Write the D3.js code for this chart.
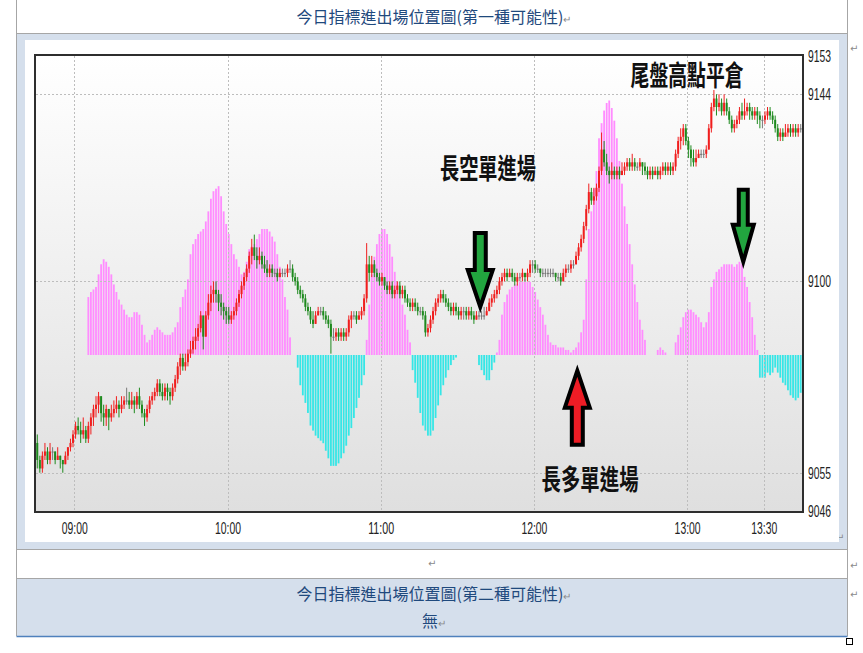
<!DOCTYPE html>
<html><head><meta charset="utf-8">
<script src="https://cdn.jsdelivr.net/npm/d3@7"></script>
<style>body{margin:0;background:#fff;}svg{display:block}</style>
</head><body>
<svg id="c" width="863" height="653"></svg>
<script>
// ---------------- DATA ----------------
const sessionStart = "08:45";
const sessionEnd = "13:45";
const firstOpen = 9062;
const close = [
9058,9056,9059,9060,9058,9060,9060,9058,9059,9058,
9057,9059,9061,9062,9064,9066,9065,9064,9065,9063,
9066,9068,9070,9071,9073,9069,9068,9070,9068,9069,
9070,9071,9070,9071,9072,9072,9071,9072,9071,9073,
9071,9069,9068,9070,9072,9073,9074,9076,9074,9073,
9075,9074,9073,9075,9077,9080,9082,9080,9081,9083,
9084,9086,9087,9089,9092,9087,9092,9095,9097,9098,
9097,9095,9094,9093,9092,9091,9092,9093,9095,9097,
9099,9101,9103,9106,9108,9106,9105,9106,9104,9103,
9102,9103,9102,9102,9101,9102,9102,9102,9103,9103,
9101,9100,9098,9097,9096,9094,9093,9091,9090,9092,
9093,9093,9092,9091,9090,9087,9087,9088,9087,9088,
9087,9088,9091,9092,9092,9091,9092,9093,9096,9104,
9102,9104,9102,9101,9100,9101,9099,9098,9099,9097,
9098,9099,9097,9098,9096,9095,9094,9095,9094,9093,
9093,9092,9088,9089,9091,9093,9095,9096,9097,9096,
9095,9094,9093,9094,9093,9092,9093,9093,9092,9093,
9092,9091,9092,9092,9092,9092,9093,9095,9096,9097,
9098,9100,9101,9102,9101,9102,9101,9100,9101,9101,
9102,9101,9102,9104,9104,9103,9103,9102,9102,9102,
9102,9102,9102,9101,9101,9100,9102,9103,9103,9104,
9104,9106,9108,9110,9113,9117,9121,9119,9120,9122,
9126,9131,9128,9126,9125,9126,9125,9126,9125,9126,
9127,9128,9127,9128,9127,9127,9128,9127,9126,9125,
9126,9125,9126,9125,9126,9127,9126,9127,9126,9127,
9130,9133,9134,9136,9133,9131,9129,9128,9129,9130,
9130,9130,9131,9136,9141,9143,9141,9142,9140,9142,
9140,9138,9136,9137,9138,9140,9139,9140,9141,9140,
9139,9140,9139,9138,9138,9139,9140,9139,9138,9136,
9134,9135,9134,9135,9136,9135,9136,9135,9136,9136];
const high = [
9064,9059,9060,9062,9061,9062,9061,9060,9061,9059,
9058,9060,9061,9063,9065,9067,9068,9067,9068,9066,
9067,9069,9071,9073,9074,9073,9071,9071,9070,9071,
9072,9073,9072,9073,9073,9075,9074,9074,9073,9074,
9075,9072,9070,9071,9073,9074,9075,9077,9077,9076,
9076,9076,9075,9076,9078,9081,9083,9083,9083,9084,
9086,9087,9089,9090,9093,9091,9093,9097,9099,9100,
9100,9098,9097,9095,9094,9094,9093,9094,9096,9098,
9100,9102,9104,9107,9110,9111,9108,9108,9107,9106,
9105,9104,9104,9103,9103,9103,9103,9103,9104,9105,
9104,9102,9101,9099,9098,9097,9095,9094,9093,9093,
9094,9094,9094,9093,9092,9091,9089,9089,9089,9089,
9089,9089,9092,9093,9093,9093,9093,9094,9097,9109,
9106,9106,9105,9103,9102,9102,9101,9100,9100,9100,
9099,9100,9100,9099,9099,9097,9096,9096,9096,9095,
9094,9094,9093,9090,9092,9094,9096,9097,9098,9098,
9097,9096,9095,9095,9095,9094,9094,9094,9094,9094,
9094,9093,9093,9093,9093,9094,9094,9096,9097,9098,
9099,9101,9102,9103,9103,9103,9103,9102,9102,9102,
9103,9102,9103,9105,9105,9105,9104,9103,9103,9103,
9103,9103,9103,9102,9102,9102,9103,9104,9104,9105,
9105,9107,9109,9111,9114,9118,9123,9122,9122,9123,
9127,9135,9133,9130,9127,9128,9127,9127,9127,9128,
9128,9129,9129,9130,9129,9128,9129,9128,9128,9127,
9127,9127,9127,9127,9127,9128,9128,9128,9128,9128,
9131,9134,9136,9137,9137,9134,9132,9131,9131,9131,
9131,9131,9132,9137,9142,9145,9144,9144,9143,9144,
9143,9141,9139,9138,9139,9141,9142,9143,9142,9142,
9141,9141,9141,9140,9139,9140,9141,9141,9140,9139,
9137,9136,9136,9137,9137,9137,9137,9137,9137,9137];
const low = [
9056,9055,9055,9058,9057,9057,9058,9057,9058,9056,
9055,9057,9058,9060,9061,9063,9064,9062,9063,9062,
9062,9064,9066,9068,9069,9067,9066,9066,9065,9067,
9068,9069,9068,9069,9070,9071,9070,9070,9069,9070,
9070,9068,9066,9067,9069,9071,9072,9073,9073,9072,
9072,9072,9071,9072,9074,9076,9078,9079,9079,9080,
9082,9083,9084,9086,9088,9084,9087,9091,9093,9095,
9095,9093,9092,9091,9090,9090,9090,9091,9092,9094,
9096,9098,9100,9102,9104,9105,9103,9104,9103,9102,
9101,9101,9101,9101,9100,9101,9101,9101,9101,9102,
9100,9099,9097,9096,9095,9093,9092,9090,9089,9090,
9092,9092,9091,9090,9089,9083,9086,9086,9086,9086,
9086,9086,9087,9089,9091,9090,9091,9091,9092,9095,
9100,9101,9101,9100,9099,9099,9098,9097,9097,9096,
9096,9097,9096,9096,9095,9094,9093,9093,9093,9092,
9092,9091,9087,9087,9088,9090,9092,9094,9095,9095,
9094,9093,9092,9092,9092,9091,9091,9091,9091,9091,
9091,9090,9091,9091,9091,9091,9092,9093,9094,9095,
9096,9097,9099,9100,9100,9101,9100,9099,9099,9100,
9100,9100,9100,9101,9102,9102,9102,9101,9101,9101,
9101,9101,9101,9100,9100,9099,9100,9101,9102,9102,
9103,9104,9105,9107,9109,9112,9116,9118,9118,9119,
9121,9125,9127,9125,9123,9124,9124,9124,9124,9125,
9125,9126,9126,9126,9126,9126,9126,9125,9125,9124,
9124,9124,9125,9124,9124,9125,9125,9125,9125,9125,
9126,9129,9131,9132,9132,9129,9127,9127,9127,9129,
9129,9129,9129,9131,9135,9140,9139,9140,9139,9139,
9139,9137,9135,9135,9136,9137,9138,9138,9139,9138,
9138,9138,9137,9136,9136,9137,9138,9138,9137,9135,
9133,9133,9133,9134,9134,9134,9134,9134,9134,9135];
const histogram = [
null,null,null,null,null,null,null,null,null,null,
null,null,null,null,null,null,null,null,null,null,
23,25,26,27,32,36,38,37,35,32,
28,25,22,20,18,16,15,15,17,17,
16,12,8,5,6,8,10,11,10,9,
8,8,8,9,11,13,19,23,26,30,
40,44,46,48,49,50,53,57,62,65,
66,67,63,57,52,48,44,40,38,35,
32,33,37,42,43,44,46,48,50,50,
50,49,47,45,40,35,30,23,18,7,
0,0,-5,-12,-16,-19,-23,-28,-30,-32,
-33,-34,-35,-38,-41,-44,-44,-44,-43,-41,
-39,-36,-32,-29,-25,-21,-17,-12,-8,6,
20,32,39,44,48,50,50,48,44,39,
33,29,25,20,16,10,5,-6,-11,-17,
-23,-28,-30,-32,-32,-30,-25,-20,-16,-12,
-9,-6,-4,-2,-1,0,0,0,0,0,
0,0,0,-4,-6,-8,-10,-10,-6,-3,
1,6,16,21,24,26,27,28,28,29,
29,30,29,29,27,25,22,19,16,12,
8,5,4,4,3,3,3,2,2,1,
2,3,5,9,14,30,50,57,66,73,
86,92,97,100,101,98,93,86,77,68,
59,52,44,36,28,21,14,10,6,0,
0,0,0,2,3,2,1,0,0,0,
5,8,11,15,17,18,18,17,16,15,
13,11,13,17,27,30,33,34,35,36,
36,36,36,35,36,37,36,31,27,21,
15,8,2,-9,-9,-9,-7,-8,-7,-5,
-7,-9,-11,-12,-14,-16,-17,-18,-17,-15];
const timeTicks = ["09:00","10:00","11:00","12:00","13:00","13:30"];
const priceTicks = [9153, 9144, 9100, 9055, 9046];
const gridPrices = [9144, 9100, 9055];
const labelTexts = ["長空單進場","尾盤高點平倉","長多單進場"];
const labelTimes = ["11:42","13:00","12:22"];
const labelPrices = [9124, 9146, 9051];
const arrowTimes = ["11:39","13:22","12:17"];
const arrowKinds = ["short","exit","long"];
const title1 = "今日指標進出場位置圖(第一種可能性)";
const title2 = "今日指標進出場位置圖(第二種可能性)";
const title2Body = "無";

// ---------------- DRAW ----------------
const svg = d3.select("#c");
const tblL = 16.5, tblR = 847.5;
const blue = "#D5DFEC";
const border = "#A6A6A6";
const textBlue = "#1F497D";
const cjk = "'Noto Sans CJK TC','Noto Sans CJK SC',sans-serif";

// table rows
svg.append("rect").attr("x",tblL).attr("y",33.5).attr("width",tblR-tblL).attr("height",516).attr("fill",blue);
svg.append("rect").attr("x",tblL).attr("y",578.5).attr("width",tblR-tblL).attr("height",58).attr("fill",blue);
[[tblL,0,tblL,636],[tblR,0,tblR,636],[tblL,33.5,tblR,33.5],[tblL,549.5,tblR,549.5],[tblL,578.5,tblR,578.5]]
  .forEach(l=>svg.append("line").attr("x1",l[0]).attr("y1",l[1]).attr("x2",l[2]).attr("y2",l[3]).attr("stroke",border).attr("stroke-width",1));
svg.append("line").attr("x1",tblL).attr("x2",tblR).attr("y1",636.5).attr("y2",636.5).attr("stroke","#4F81BD").attr("stroke-width",1.5);
svg.append("rect").attr("x",846.5).attr("y",638.5).attr("width",6).attr("height",6).attr("fill","#fff").attr("stroke","#000").attr("stroke-width",1);

function para(x,y,t,size){
  const g = svg.append("text").attr("x",x).attr("y",y).attr("text-anchor","middle")
    .attr("font-family",cjk).attr("font-size",size).attr("fill",textBlue);
  g.append("tspan").text(t);
  g.append("tspan").attr("fill","#8a8a8a").attr("font-size",10).text("↵");
}
para(434,23,title1,16);
para(434,600,title2,16);
para(434,627,title2Body,16);
function mark(x,y){svg.append("text").attr("x",x).attr("y",y).attr("font-size",10).attr("fill","#8a8a8a").attr("font-family","DejaVu Sans").text("↵");}
mark(850,52); mark(836,541); mark(428,567); mark(850,569); mark(850,598);

// chart image
svg.append("rect").attr("x",25).attr("y",40).attr("width",814).attr("height",502).attr("fill","#fff");

const defs = svg.append("defs");
const grad = defs.append("linearGradient").attr("id","bg").attr("x1",0).attr("y1",0).attr("x2",0).attr("y2",1);
grad.append("stop").attr("offset","0%").attr("stop-color","#ffffff");
grad.append("stop").attr("offset","100%").attr("stop-color","#dfdfdf");

const plot = {l:36, r:802, t:56, b:511};
const parseT = d3.timeParse("%H:%M");
const t0 = parseT(sessionStart), t1 = parseT(sessionEnd);
const x = d3.scaleTime().domain([t0,t1]).range([plot.l, plot.r]);
const y = d3.scaleLinear().domain([9046, 9153]).range([plot.b, plot.t]);
const hy = d3.scaleLinear().domain([-50, 100]).range([481, 103]);
const step = x(d3.timeMinute.offset(t0,1)) - x(t0);
const cx = i => x(d3.timeMinute.offset(t0,i)) + step/2;

svg.append("rect").attr("x",plot.l).attr("y",plot.t).attr("width",plot.r-plot.l).attr("height",plot.b-plot.t).attr("fill","url(#bg)");

// histogram
const hist = svg.append("g");
histogram.forEach((v,i)=>{
  if (v===null || v===0) return;
  hist.append("rect").attr("x",cx(i)-0.9).attr("width",1.8)
    .attr("y",Math.min(hy(v),hy(0))).attr("height",Math.abs(hy(v)-hy(0)))
    .attr("fill", v>0 ? "#FF8CFF" : "#36E6E6");
});

// grid
const grid = svg.append("g").attr("stroke","#bdbdbd").attr("stroke-dasharray","2,2").attr("stroke-width",1);
gridPrices.forEach(p=>grid.append("line").attr("x1",plot.l).attr("x2",plot.r).attr("y1",Math.round(y(p))+0.5).attr("y2",Math.round(y(p))+0.5));
timeTicks.forEach(t=>{const xx=Math.round(x(parseT(t)))+0.5; grid.append("line").attr("x1",xx).attr("x2",xx).attr("y1",plot.t).attr("y2",plot.b);});

// candles
const cg = svg.append("g");
close.forEach((c,i)=>{
  const o = i===0 ? firstOpen : close[i-1];
  const col = c>o ? "#F01E1E" : (c<o ? "#1E8A1E" : "#7a7a7a");
  const xx = cx(i);
  cg.append("line").attr("x1",xx).attr("x2",xx).attr("y1",y(high[i])).attr("y2",y(low[i])).attr("stroke",col).attr("stroke-width",1);
  const top = Math.min(y(o),y(c)), h = Math.max(1.2,Math.abs(y(o)-y(c)));
  cg.append("rect").attr("x",xx-1).attr("width",2).attr("y",top).attr("height",h).attr("fill",col);
});

// frame
svg.append("rect").attr("x",plot.l-1).attr("y",plot.t-1).attr("width",plot.r-plot.l+2).attr("height",plot.b-plot.t+2)
  .attr("fill","none").attr("stroke","#2e2e2e").attr("stroke-width",2);

// axes
const xa = svg.append("g").attr("transform",`translate(0,${plot.b})`)
  .call(d3.axisBottom(x).tickValues(timeTicks.map(parseT)).tickFormat(d3.timeFormat("%H:%M")).tickSize(0).tickPadding(11));
xa.select(".domain").remove();
xa.selectAll("text").attr("font-family","'Liberation Sans',Arial,sans-serif").attr("font-size",17).attr("fill","#222")
  .attr("textLength",26).attr("lengthAdjust","spacingAndGlyphs");
const ya = svg.append("g").attr("transform",`translate(${plot.r},0)`)
  .call(d3.axisRight(y).tickValues(priceTicks).tickFormat(d3.format("d")).tickSize(0).tickPadding(6));
ya.select(".domain").remove();
ya.selectAll("text").attr("font-family","'Liberation Sans',Arial,sans-serif").attr("font-size",17).attr("fill","#222")
  .attr("textLength",23).attr("lengthAdjust","spacingAndGlyphs");

// arrows
function arrowPath(tx,ty,dir,L,hl,hw,sw){
  const yb = ty - dir*hl, ye = ty - dir*L;
  return `M${tx},${ty}L${tx+hw},${yb}L${tx+sw},${yb}L${tx+sw},${ye}L${tx-sw},${ye}L${tx-sw},${yb}L${tx-hw},${yb}Z`;
}
const arrowSpec = {
  short:{dir:1, fill:"#22A53F", anchor:()=>y(9094), L:74, hl:37, hw:12.5, sw:5.5},
  exit:{dir:1, fill:"#22A53F", anchor:()=>hy(37), L:72, hl:37, hw:10.5, sw:4.5},
  long:{dir:-1, fill:"#EE1C25", anchor:()=>y(9079), L:74, hl:37, hw:12.5, sw:5.5}
};
arrowKinds.forEach((k,j)=>{
  const s = arrowSpec[k];
  const tx = x(parseT(arrowTimes[j]));
  svg.append("path").attr("d",arrowPath(tx, s.anchor(), s.dir, s.L, s.hl, s.hw, s.sw))
    .attr("fill",s.fill).attr("stroke","#000").attr("stroke-width",4).attr("stroke-linejoin","miter");
});

// annotation labels
const widths = [96,113,97];
labelTexts.forEach((t,j)=>{
  svg.append("text").attr("x",x(parseT(labelTimes[j]))).attr("y",y(labelPrices[j]))
    .attr("text-anchor","middle").attr("font-family",cjk).attr("font-weight",700).attr("font-size",28)
    .attr("fill","#111").attr("textLength",widths[j]).attr("lengthAdjust","spacingAndGlyphs").text(t);
});
</script>
</body></html>
